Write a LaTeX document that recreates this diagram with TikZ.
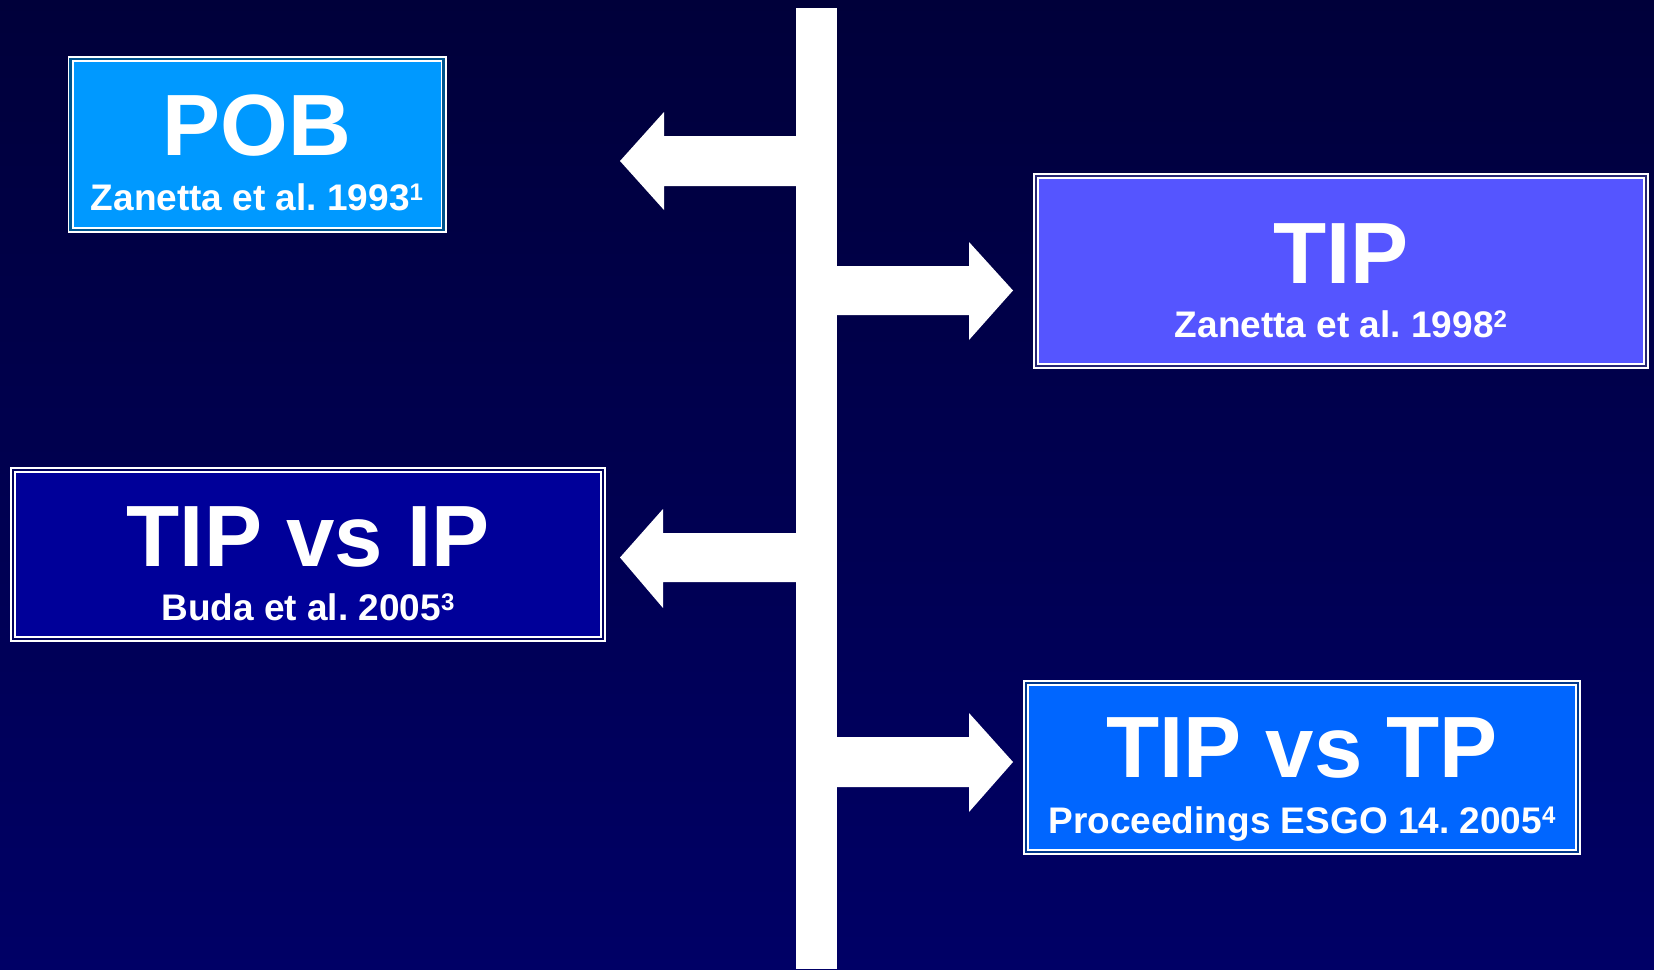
\documentclass[tikz,border=0pt]{standalone}
\usepackage{fontspec}
\setmainfont{Liberation Sans}
\frenchspacing
\newcommand\mytitlefont{\fontsize{87}{87}\selectfont\bfseries}
\newcommand\mysubfont{\fontsize{37}{37}\selectfont\bfseries\frenchspacing}
\newcommand\mysup[1]{\raisebox{9.5pt}{\fontsize{24}{24}\selectfont\bfseries #1}}
\definecolor{bgtop}{RGB}{0,0,58}
\definecolor{bgbot}{RGB}{0,0,102}
\definecolor{cpob}{RGB}{0,153,255}
\definecolor{ctip}{RGB}{85,85,255}
\definecolor{ctipip}{RGB}{0,0,153}
\definecolor{ctiptp}{RGB}{0,102,255}
\tikzset{
  box/.style={draw=white, line width=1.9pt, double distance=2.2pt, inner sep=0pt, rectangle},
  ttl/.style={text=white, anchor=base, inner sep=0pt, font=\mytitlefont},
  sbt/.style={text=white, anchor=base, inner sep=0pt, font=\mysubfont},
  arr/.style={fill=white, draw=none}
}
\begin{document}
\begin{tikzpicture}[x=1pt,y=-1pt]
\useasboundingbox (0,0) rectangle (1654,969);
\shade[top color=bgtop, bottom color=bgbot] (0,0) rectangle (1654,969);

% trunk and arrows
\fill[arr] (796,8) rectangle (837,969);
\fill[arr] (796,136) -- (664,136) -- (664,112) -- (620,161) -- (664,210) -- (664,186) -- (796,186) -- cycle;
\fill[arr] (837,266) -- (969,266) -- (969,242) -- (1013,290.5) -- (969,340) -- (969,315) -- (837,315) -- cycle;
\fill[arr] (796,533) -- (663,533) -- (663,509) -- (620,557.5) -- (663,608) -- (663,582) -- (796,582) -- cycle;
\fill[arr] (837,737) -- (969,737) -- (969,713) -- (1013,762) -- (969,812) -- (969,787) -- (837,787) -- cycle;

% boxes
\node[box, fill=cpob, double=cpob!55!black, minimum width=373pt, minimum height=171.4pt] (pob) at (257,144.5) {};
\node[box, fill=ctip, double=ctip!45!black, minimum width=610.4pt, minimum height=190.4pt] (tip) at (1341,271) {};
\node[box, fill=ctipip, double=ctipip!60!black, minimum width=590.4pt, minimum height=169.4pt] (tipip) at (308,554.5) {};
\node[box, fill=ctiptp, double=ctiptp!55!black, minimum width=552.4pt, minimum height=169.4pt] (tiptp) at (1302,767.5) {};

% texts
\node[ttl] (pobt) at (257,155) {POB};
\node[sbt] (pobs) at (257,210) {Zanetta et al. 1993\mysup{1}};
\node[ttl] (tipt) at (1341,283) {TIP};
\node[sbt] (tips) at (1341,337) {Zanetta et al. 1998\mysup{2}};
\node[ttl] (tipipt) at (308,566) {TIP vs IP};
\node[sbt] (tipips) at (308,620) {Buda et al. 2005\mysup{3}};
\node[ttl] (tiptpt) at (1302,777) {TIP vs TP};
\node[sbt] (tiptps) at (1302,833) {Proceedings ESGO 14. 2005\mysup{4}};
\end{tikzpicture}
\end{document}
